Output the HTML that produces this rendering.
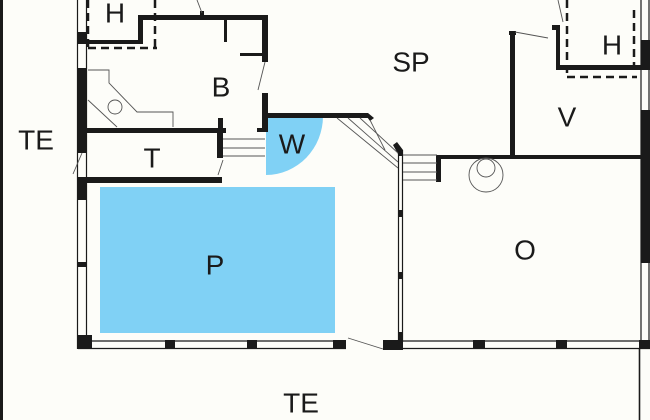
<!DOCTYPE html>
<html><head><meta charset="utf-8"><style>
html,body{margin:0;padding:0;background:#fdfdf9;}
svg{display:block;}
text{font-family:"Liberation Sans",sans-serif;font-size:28px;fill:#1a1a1a;text-anchor:middle;dominant-baseline:central;}
</style></head><body>
<svg width="650" height="420" viewBox="0 0 650 420" xmlns="http://www.w3.org/2000/svg">
<rect width="650" height="420" fill="#fdfdf9"/>
<!-- pool -->
<rect x="100" y="187" width="235" height="146" fill="#80d1f5"/>
<!-- W quarter -->
<path d="M266 116 H323 A57 59 0 0 1 266 175 Z" fill="#80d1f5"/>
<!-- far left line -->
<rect x="0" y="0" width="3" height="420" fill="#1a1a1a"/>
<g fill="#1a1a1a">
<!-- left wall -->
<rect x="77" y="32" width="10" height="12"/>
<rect x="77" y="68" width="10" height="85"/>
<rect x="77" y="177" width="10" height="23"/>
<rect x="77" y="262" width="10" height="5"/>
<rect x="77" y="335" width="15" height="14"/>
<!-- bottom piers -->
<rect x="165" y="340" width="10" height="9"/>
<rect x="247" y="340" width="10" height="9"/>
<rect x="333" y="340" width="13" height="9"/>
<rect x="383" y="340" width="20" height="10"/>
<rect x="473" y="340" width="12" height="9"/>
<rect x="556" y="340" width="11" height="9"/>
<rect x="639" y="340" width="11" height="9"/>
<!-- right outer wall -->
<rect x="641" y="40" width="9" height="30"/>
<rect x="641" y="110" width="9" height="153"/>
<!-- B / H -->
<rect x="138" y="15" width="130" height="5"/>
<rect x="138" y="15" width="5" height="29"/>
<rect x="78" y="40" width="65" height="4"/>
<rect x="262" y="15" width="6" height="47"/>
<rect x="224" y="20" width="3" height="22"/>
<rect x="240" y="53" width="28" height="3"/>
<rect x="200" y="11" width="4" height="5"/>
<rect x="262" y="93" width="6" height="39"/>
<rect x="257" y="128" width="9" height="4"/>
<!-- T -->
<rect x="78" y="128" width="148" height="5"/>
<rect x="218" y="118" width="5" height="15"/>
<rect x="217" y="128" width="6" height="30"/>
<rect x="78" y="177" width="144" height="6"/>
<!-- W top wall -->
<rect x="266" y="113" width="102" height="5"/>
<polygon points="364,113 368,113 374,118 370,121"/>
<polygon points="393,145 397,142 403,150 402,154 398,154"/>
<!-- middle column piers -->
<rect x="398" y="150" width="5" height="6"/>
<rect x="398" y="210" width="5" height="7"/>
<rect x="398" y="272" width="5" height="7"/>
<rect x="398" y="332" width="5" height="10"/>
<!-- O top -->
<rect x="436" y="155" width="205" height="4"/>
<rect x="436" y="155" width="5" height="27"/>
<!-- V -->
<rect x="510" y="31" width="5" height="126"/>
<rect x="509" y="31" width="7" height="4"/>
<rect x="552" y="25" width="8" height="5"/>
<rect x="556" y="25" width="4" height="45"/>
<rect x="556" y="65" width="85" height="5"/>
</g>
<g fill="none" stroke="#1a1a1a" stroke-width="1.2">
<!-- window lines left -->
<line x1="77.5" y1="0" x2="77.5" y2="349"/>
<line x1="86.5" y1="0" x2="86.5" y2="340"/>
<!-- bottom windows -->
<line x1="78" y1="348.5" x2="346" y2="348.5"/>
<line x1="88" y1="341" x2="346" y2="341"/>
<line x1="383" y1="348.5" x2="650" y2="348.5"/>
<line x1="403" y1="341" x2="641" y2="341"/>
<!-- right windows -->
<line x1="641" y1="0" x2="641" y2="349"/>
<line x1="649" y1="0" x2="649" y2="349"/>
<line x1="639.5" y1="349" x2="639.5" y2="420" stroke-width="1.6"/>
<!-- middle column -->
<line x1="398.5" y1="150" x2="398.5" y2="342"/>
<line x1="402.5" y1="150" x2="402.5" y2="342"/>
</g>
<!-- thin grey lines -->
<g fill="none" stroke="#555" stroke-width="0.9">
<line x1="82" y1="153" x2="73" y2="174"/>
<line x1="265" y1="62" x2="258" y2="90"/>
<line x1="197" y1="0" x2="202" y2="13"/>
<line x1="223" y1="160" x2="218" y2="175"/>
<line x1="348" y1="338" x2="383" y2="349"/>
<line x1="515" y1="32" x2="548" y2="38"/>
<line x1="558" y1="0" x2="563" y2="22"/>
<line x1="370" y1="120" x2="385" y2="150"/>
<!-- stair diagonals -->
<line x1="337" y1="118" x2="398" y2="168"/>
<line x1="348" y1="118" x2="398" y2="162"/>
<line x1="360" y1="118" x2="398" y2="153"/>
<!-- stairs right -->
<line x1="403" y1="155" x2="437" y2="155"/>
<line x1="403" y1="163" x2="437" y2="163"/>
<line x1="403" y1="172" x2="437" y2="172"/>
<line x1="403" y1="180" x2="437" y2="180"/>
<!-- stairs left -->
<line x1="223" y1="139" x2="265" y2="139"/>
<line x1="223" y1="148" x2="265" y2="148"/>
<line x1="223" y1="156" x2="265" y2="156"/>
<!-- bathroom fixtures -->
<polyline points="88,70 109,70 109,83 137,112 173,112 173,127"/>
<line x1="88" y1="100" x2="117" y2="127"/>
<circle cx="115" cy="107" r="7"/>
<!-- O circle -->
<circle cx="486" cy="175" r="17"/>
<circle cx="486" cy="168" r="9"/>
</g>
<!-- dashed -->
<g fill="none" stroke="#1a1a1a" stroke-width="2.5" stroke-dasharray="8,5">
<line x1="88" y1="0" x2="88" y2="47"/>
<line x1="88" y1="48" x2="157" y2="48"/>
<line x1="155" y1="0" x2="155" y2="48"/>
<line x1="567" y1="0" x2="567" y2="77"/>
<line x1="567" y1="77" x2="637" y2="77"/>
<line x1="634" y1="10" x2="634" y2="70"/>
</g>
<text x="115" y="13">H</text>
<text x="221" y="87">B</text>
<text x="411" y="62">SP</text>
<text x="36" y="140">TE</text>
<text x="152" y="158">T</text>
<text x="292" y="144">W</text>
<text x="215" y="265">P</text>
<text x="525" y="250">O</text>
<text x="567" y="117">V</text>
<text x="612" y="45">H</text>
<text x="301" y="403">TE</text>
</svg>
</body></html>
